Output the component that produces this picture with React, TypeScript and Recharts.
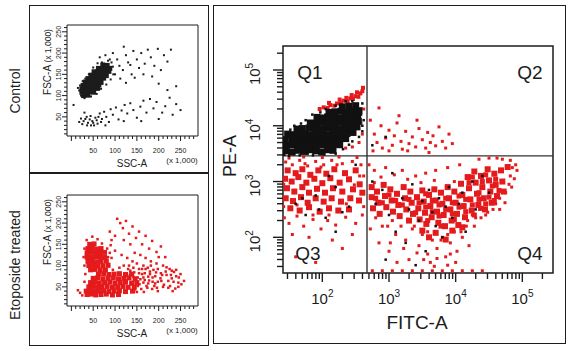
import React from 'react';
import { ScatterChart, Scatter, XAxis, YAxis, ReferenceLine, ReferenceArea } from 'recharts';

const RED = '#e41a1c';
const INK = '#1c1c1c';
const FONT = '"Liberation Sans", Arial, Helvetica, sans-serif';

// tick labels
const linMajor = [50, 100, 150, 200, 250];
const logDecades = [2, 3, 4, 5];
const quadrantLabels = ['Q1', 'Q2', 'Q3', 'Q4'];

// gate positions (log10 units)
const gateFitc = 2.67;
const gatePe = 3.46;

// ---- Control: SSC-A vs FSC-A (x 1,000) ----
const controlCore = [
  28,100, 38,101, 24,108, 33,107, 42,109, 51,108, 24,116, 33,117, 42,115, 51,116, 60,117,
  27,124, 36,125, 45,123, 54,124, 63,125, 32,132, 41,131, 50,133, 59,132, 68,131,
  38,140, 47,141, 56,139, 65,140, 74,141, 45,148, 54,147, 63,149, 72,148, 80,147,
  52,156, 61,157, 70,155, 79,156, 86,157, 62,164, 71,163, 80,165, 88,164, 72,172, 82,171,
];
const controlDots = [
  95,200, 105,185, 110,170, 118,160, 125,195, 130,178, 138,150, 142,205, 150,185, 155,165,
  160,200, 168,175, 175,208, 182,190, 190,170, 198,210, 205,160, 212,195, 220,180, 228,208,
  100,150, 112,140, 125,130, 135,172, 145,142, 165,150, 185,145, 200,128, 88,185, 78,195,
  70,178, 65,190, 120,215, 240,122, 18,112, 20,124, 22,100, 30,94, 45,98, 58,104, 68,116,
  80,126, 90,138, 96,150, 95,168, 92,178, 84,182, 60,176, 50,166, 40,150, 32,140, 26,134, 15,118,
];
const controlDebris = [
  18,38, 25,33, 32,45, 38,36, 44,52, 48,40, 55,48, 60,34, 65,58, 70,45, 75,62, 80,50, 86,38,
  90,68, 95,55, 102,72, 108,44, 115,65, 122,78, 128,58, 135,82, 142,66, 150,48, 158,74, 165,88,
  172,60, 180,92, 188,70, 195,85, 208,60, 215,75, 225,95, 232,55, 240,80, 5,78, 30,60, 52,30,
  78,30, 120,40, 160,40, 250,66, 200,45, 28,40, 35,50, 42,44, 50,36, 58,42, 62,50, 45,30, 36,30,
  22,46, 68,38, 220,113,
];

// ---- Etoposide treated: SSC-A vs FSC-A (x 1,000) ----
const etoCore = [
  42,150, 52,151, 38,140, 48,141, 58,139, 68,140, 36,130, 46,131, 56,129, 66,130, 76,131,
  36,120, 46,119, 56,121, 66,120, 76,119, 38,110, 48,111, 58,109, 68,110, 80,111,
  40,100, 50,101, 60,99, 72,100, 84,101, 44,90, 54,91, 66,89, 78,90,
  62,80, 74,81, 86,79, 98,80, 110,81, 124,79, 138,80,
  50,70, 60,71, 72,69, 84,70, 96,71, 108,69, 120,70, 132,71, 146,69,
  44,60, 54,61, 64,59, 76,60, 88,61, 100,59, 112,60, 124,61, 138,59, 150,60,
  40,50, 50,51, 60,49, 70,50, 82,51, 94,49, 106,50, 118,51, 130,49, 144,50,
  34,40, 44,41, 54,39, 64,40, 74,41, 86,39, 98,40, 110,41, 124,39, 140,40,
  36,32, 46,33, 56,31, 68,32, 80,33, 94,31, 108,32,
];
const etoDots = [
  105,210, 112,200, 118,188, 125,205, 132,175, 140,192, 148,165, 155,180, 162,150, 170,170,
  178,140, 185,158, 195,132, 205,145, 215,120, 100,170, 92,160, 88,180, 120,160, 135,150,
  145,130, 158,125, 170,118, 182,110, 195,105, 210,100, 225,92, 235,85, 230,70, 218,78,
  205,82, 198,62, 212,55, 222,48, 188,90, 175,95, 165,100, 150,105, 140,110, 128,118,
  115,125, 100,135, 90,148, 84,120, 86,98, 95,90, 110,95, 120,100, 130,92, 200,120,
  165,72, 180,80, 192,75, 172,52, 185,45, 198,40, 160,45, 150,38, 165,60, 178,65,
  155,82, 142,95, 25,30, 20,36, 15,42, 30,62, 32,80, 30,100, 28,120, 30,140, 35,160,
  48,168, 60,162, 70,152, 82,140, 88,130, 92,118, 60,82, 66,90, 245,60, 240,75, 232,40,
  126,65, 134,78, 245,50, 158,68, 168,82, 176,58, 186,62, 152,52, 162,92, 190,52,
  135,88, 142,74, 148,62, 155,92, 162,80, 168,66, 174,48, 180,86, 186,72, 192,58, 198,92,
  204,70, 210,50, 216,86, 222,64, 228,78, 234,62, 240,90, 246,72, 252,56, 138,56, 146,44,
  156,56, 166,38, 176,74, 196,48, 206,64, 218,96, 226,52, 238,46, 132,100, 144,84, 152,72,
  170,92, 182,100, 194,84, 208,78, 230,88, 250,80, 258,64,
];

// ---- FITC-A vs PE-A (log10 of intensity) ----
const ctrlAnnexCore = [
  1.45,3.55, 1.54,3.53, 1.63,3.56, 1.72,3.54, 1.81,3.57, 1.9,3.55, 1.99,3.53, 2.08,3.57, 2.16,3.56,
  1.46,3.65, 1.55,3.66, 1.64,3.64, 1.73,3.66, 1.82,3.65, 1.91,3.64, 2.0,3.66, 2.09,3.65, 2.18,3.67, 2.26,3.66,
  1.44,3.75, 1.54,3.76, 1.63,3.74, 1.72,3.76, 1.81,3.75, 1.9,3.74, 1.99,3.76, 2.08,3.75, 2.17,3.74, 2.26,3.76, 2.35,3.77,
  1.48,3.85, 1.56,3.84, 1.65,3.86, 1.74,3.85, 1.83,3.84, 1.92,3.86, 2.01,3.85, 2.1,3.84, 2.19,3.86, 2.28,3.85, 2.37,3.86, 2.46,3.88,
  1.62,3.94, 1.7,3.95, 1.8,3.96, 1.89,3.95, 1.98,3.94, 2.07,3.96, 2.16,3.95, 2.25,3.94, 2.34,3.96, 2.43,3.95, 2.52,3.98,
  1.82,4.05, 1.91,4.04, 2.0,4.06, 2.09,4.05, 2.18,4.04, 2.27,4.06, 2.36,4.05, 2.45,4.06, 2.54,4.08,
  1.92,4.15, 2.0,4.14, 2.08,4.16, 2.17,4.15, 2.26,4.14, 2.35,4.16, 2.44,4.15, 2.53,4.17,
  2.1,4.24, 2.19,4.25, 2.28,4.26, 2.37,4.24, 2.46,4.26, 2.55,4.27, 2.3,4.34, 2.4,4.35, 2.5,4.36,
];
const ctrlAnnexDots = [
  1.43,3.48, 1.5,3.46, 1.58,3.49, 1.66,3.47, 1.78,3.5, 1.86,3.47, 2.03,3.49, 2.2,3.5, 2.31,3.58,
  2.4,3.66, 2.45,3.72, 2.55,3.8, 2.6,3.9, 2.6,4.0, 2.62,4.1, 2.58,4.2, 1.52,3.93, 1.58,4.0,
  1.68,4.04, 1.75,4.1, 1.85,4.2, 1.97,4.24, 2.05,4.3, 2.2,4.36, 2.35,4.44, 2.45,4.44, 2.6,4.4,
  1.6,2.6, 1.75,2.4, 1.9,2.75, 2.05,2.35, 2.2,2.9, 2.4,2.55, 2.5,3.3, 2.1,3.1, 2.8,2.6, 2.9,2.85,
  3.0,2.4, 3.1,2.1, 3.2,2.7, 3.3,2.5, 3.35,2.95, 3.45,2.3, 3.5,2.65, 3.6,2.85, 3.65,2.45, 3.7,2.2,
  3.75,2.7, 3.85,2.55, 3.9,2.9, 3.95,2.35, 4.05,2.6, 4.1,2.8, 4.15,2.1, 4.25,3.0, 4.3,2.5, 4.4,3.1,
  4.5,2.8, 3.25,1.9, 3.55,1.75, 3.8,2.0, 2.95,1.6, 3.4,1.5, 2.75,3.0, 3.05,3.15, 2.2,2.1, 1.95,2.5,
  2.75,3.65, 2.95,3.8, 1.7,2.7, 2.3,2.45,
];
const etoQ1Streak = [
  1.96,4.3, 2.02,4.33, 2.08,4.32, 2.12,4.37, 2.18,4.36, 2.22,4.4, 2.28,4.41, 2.32,4.45, 2.38,4.44,
  2.42,4.49, 2.46,4.48, 2.5,4.53, 2.54,4.52, 2.57,4.58, 2.6,4.62, 2.61,4.68, 2.52,4.6, 2.44,4.55,
  2.36,4.5, 2.26,4.47, 2.1,4.41,
];
const etoQ3Core = [
  1.48,3.2, 1.6,3.15, 1.7,3.22, 1.82,3.12, 1.94,3.2, 2.06,3.14, 2.18,3.22, 2.34,3.15, 2.5,3.2,
  1.44,3.05, 1.54,3.0, 1.64,3.08, 1.76,2.98, 1.88,3.05, 2.0,2.97, 2.12,3.06, 2.26,2.98, 2.4,3.04, 2.56,2.95,
  1.47,2.88, 1.58,2.82, 1.7,2.9, 1.8,2.8, 1.92,2.87, 2.04,2.8, 2.16,2.88, 2.3,2.82, 2.46,2.86, 2.6,2.8,
  1.45,2.7, 1.56,2.65, 1.68,2.72, 1.78,2.62, 1.9,2.7, 2.02,2.64, 2.14,2.7, 2.28,2.64, 2.42,2.7, 2.55,2.66,
  1.52,2.52, 1.66,2.48, 1.8,2.54, 1.96,2.46, 2.1,2.52, 2.24,2.48, 2.4,2.5,
];
const etoQ4Core = [
  2.74,2.9, 2.74,2.72, 2.76,2.52, 2.82,2.82, 2.84,2.62, 2.86,2.42, 2.92,2.94, 2.94,2.74, 2.96,2.54,
  3.02,2.86, 3.04,2.66, 3.06,2.46, 3.12,2.78, 3.14,2.58, 3.16,2.38, 3.22,2.9, 3.24,2.7, 3.26,2.5,
  3.32,2.82, 3.34,2.62, 3.36,2.42, 3.3,2.3, 3.42,2.72, 3.44,2.52, 3.46,2.32, 3.5,2.84, 3.52,2.64,
  3.54,2.44, 3.56,2.24, 3.6,2.76, 3.62,2.56, 3.64,2.36, 3.68,2.86, 3.7,2.66, 3.72,2.46, 3.74,2.26,
  3.78,2.8, 3.8,2.6, 3.82,2.4, 3.84,2.2, 3.88,2.9, 3.9,2.7, 3.92,2.5, 3.94,2.3, 3.98,2.82,
  4.0,2.62, 4.02,2.42, 4.04,2.22, 4.08,2.96, 4.1,2.76, 4.12,2.56, 4.14,2.36, 4.18,3.08, 4.2,2.88,
  4.22,2.68, 4.24,2.48, 4.28,3.18, 4.3,2.98, 4.32,2.78, 4.34,2.58, 4.38,3.1, 4.4,2.9, 4.42,2.7,
  4.44,2.5, 4.48,3.22, 4.5,3.02, 4.52,2.82, 4.54,2.62, 4.58,3.14, 4.6,2.94, 4.62,2.74, 4.68,3.2,
  4.7,3.0, 4.72,2.82, 4.78,3.26, 3.5,2.12, 3.7,2.08, 3.95,2.12, 3.6,2.0, 3.85,1.96, 4.1,2.18,
];
const etoQ4Fill = [
  3.45,2.62, 3.55,2.54, 3.65,2.66, 3.75,2.58, 3.85,2.5, 3.95,2.62, 4.05,2.54, 4.15,2.68, 4.25,2.58,
  4.35,2.8, 4.45,2.6, 4.55,2.92, 4.65,2.84, 4.25,3.08, 4.45,3.12, 4.6,3.04, 3.55,2.78, 3.75,2.38,
  3.95,2.42, 4.15,2.46, 4.35,2.68, 3.65,2.46, 3.85,2.7, 4.05,2.74, 4.2,2.98, 4.4,3.0, 4.5,2.72,
  3.4,2.44, 3.3,2.68, 3.1,2.66, 2.9,2.62, 3.0,2.76, 3.2,2.58, 2.8,2.7, 3.58,2.3, 3.78,2.2,
  3.98,2.32, 4.28,2.4, 4.38,2.52, 4.58,2.66,
];
const etoDotsAnnex = [
  // Q1 / Q2
  2.5,4.2, 2.58,4.05, 2.6,3.85, 2.55,3.7, 2.45,3.62, 2.62,4.3, 2.35,3.6,
  2.72,4.1, 2.78,3.85, 2.82,3.7, 2.88,4.0, 2.9,3.6, 2.95,3.78, 3.0,3.92, 3.05,3.65, 3.08,3.82,
  3.12,4.05, 3.18,3.72, 3.2,3.58, 3.25,3.9, 3.3,3.68, 3.35,3.8, 3.4,3.62, 3.45,3.95, 3.5,3.75,
  3.55,3.6, 3.58,3.88, 3.62,3.7, 3.66,3.82, 3.7,3.64, 3.75,3.98, 3.8,3.72, 3.85,3.6, 3.9,3.85,
  2.85,4.32, 3.15,4.18, 2.76,3.55, 3.42,4.1, 3.0,3.55, 3.28,3.55, 3.6,3.52, 3.95,3.68,
  // Q3
  1.45,3.35, 1.55,3.3, 1.66,3.38, 1.78,3.28, 1.9,3.36, 2.02,3.3, 2.14,3.38, 2.3,3.32, 2.45,3.36, 2.58,3.3,
  1.43,2.35, 1.5,2.25, 1.62,2.38, 1.72,2.2, 1.86,2.32, 1.98,2.15, 2.08,2.3, 2.2,2.22, 2.35,2.36,
  2.5,2.25, 2.6,2.4, 1.55,2.05, 1.8,2.0, 2.15,1.95, 2.45,2.05, 1.6,1.65, 1.9,1.55, 2.3,1.8,
  1.5,3.42, 1.72,3.44, 2.0,3.43, 2.25,3.44, 2.52,3.43, 2.62,3.1, 2.62,2.55, 1.42,2.55, 1.42,2.95,
  1.62,2.58, 1.86,2.4, 2.1,2.4, 2.36,2.6, 2.56,3.1, 1.74,3.32, 1.98,3.26, 2.22,3.3, 2.48,2.94,
  // Q4
  2.7,3.3, 2.78,3.2, 2.8,2.35, 2.9,2.2, 2.72,2.15, 2.95,3.25, 3.05,2.3, 3.1,2.05, 3.2,3.2,
  3.25,1.95, 3.35,2.15, 3.4,3.1, 3.45,1.85, 3.5,2.05, 3.55,3.15, 3.58,1.7, 3.65,1.95, 3.7,3.2,
  3.72,1.8, 3.8,2.0, 3.85,1.65, 3.88,3.25, 3.92,1.9, 3.98,2.1, 4.02,1.75, 4.06,3.3, 4.1,2.0,
  4.16,2.2, 4.2,1.85, 4.25,2.4, 4.3,2.35, 4.36,2.5, 4.45,2.4, 4.5,3.42, 4.6,2.6, 4.66,2.7,
  4.75,2.8, 4.82,3.1, 4.85,3.25, 4.9,3.3, 4.92,3.2, 4.8,2.95, 4.35,3.4, 4.62,3.42, 3.0,1.75,
  3.3,1.6, 3.62,1.55, 2.85,1.9, 4.0,1.55,
  2.78,2.98, 2.88,3.08, 2.98,2.2, 3.08,3.12, 3.18,2.2, 3.28,3.04, 3.38,2.2, 3.48,2.98, 3.58,2.1,
  3.68,3.02, 3.78,1.95, 3.88,2.05, 3.98,3.0, 4.08,2.1, 4.18,2.3, 4.28,2.2, 4.38,2.35, 4.48,2.45,
  4.56,2.5, 4.66,2.5, 4.74,2.62, 4.84,2.9, 4.88,3.05, 4.82,3.38, 4.7,3.4, 3.02,1.9, 3.22,1.8,
  3.42,1.72, 3.52,1.6, 3.72,1.62, 3.92,1.7, 3.68,1.48, 3.88,1.5, 3.12,1.55,
  2.75,1.4, 2.9,1.4, 3.05,1.4, 3.2,1.4, 3.35,1.4, 3.5,1.4, 3.65,1.4, 3.8,1.4, 3.95,1.4,
  4.1,1.4, 4.25,1.4, 4.4,1.4,
];

const pts = (a: number[]) => {
  const out: { x: number; y: number }[] = [];
  for (let i = 0; i < a.length; i += 2) out.push({ x: a[i], y: a[i + 1] });
  return out;
};

const sq = (size: number, fill: string) => (p: any) => (
  <rect x={p.cx - size / 2} y={p.cy - size / 2} width={size} height={size} fill={fill} />
);

// axis ticks
const linTicks: number[] = [];
for (let v = 0; v <= 280; v += 10) linTicks.push(v);
const linYTicks = linTicks.filter((v) => v >= 10 && v <= 260);

const logTicks = (lo: number, hi: number) => {
  const t: number[] = [];
  for (let d = 1; d <= 5; d++) {
    for (let k = 1; k <= 9; k++) {
      const v = d + Math.log10(k);
      if (v >= lo && v <= hi) t.push(v);
    }
  }
  return t;
};
const isMajor = (v: number) => Math.abs(v - Math.round(v)) < 1e-6;

const LinTickX = (p: any) => {
  const v = p.payload.value;
  const major = v % 50 === 0;
  return (
    <g>
      <line x1={p.x} x2={p.x} y1={p.y} y2={p.y + (major ? 5 : 3)} stroke={INK} />
      {major && linMajor.includes(v) && (
        <text x={p.x} y={p.y + 17} textAnchor="middle" fontSize={7} fill={INK}>{v}</text>
      )}
    </g>
  );
};

const LinTickY = (p: any) => {
  const v = p.payload.value;
  const major = v % 50 === 0;
  return (
    <g>
      <line x1={p.x} x2={p.x - (major ? 5 : 3)} y1={p.y} y2={p.y} stroke={INK} />
      {major && linMajor.includes(v) && (
        <text transform={`translate(${p.x - 6},${p.y}) rotate(-90)`} textAnchor="middle" fontSize={7} fill={INK}>{v}</text>
      )}
    </g>
  );
};

const LogTickX = (p: any) => {
  const v = p.payload.value;
  const major = isMajor(v);
  return (
    <g>
      <line x1={p.x} x2={p.x} y1={p.y} y2={p.y + (major ? 9 : 6)} stroke={INK} strokeWidth={1.4} />
      {major && logDecades.includes(Math.round(v)) && (
        <text x={p.x} y={p.y + 31} textAnchor="middle" fontSize={15} fill={INK}>
          <tspan>10</tspan>
          <tspan dy={-7} fontSize={10}>{Math.round(v)}</tspan>
        </text>
      )}
    </g>
  );
};

const LogTickY = (p: any) => {
  const v = p.payload.value;
  const major = isMajor(v);
  return (
    <g>
      <line x1={p.x} x2={p.x - (major ? 10 : 6)} y1={p.y} y2={p.y} stroke={INK} strokeWidth={1.4} />
      {major && logDecades.includes(Math.round(v)) && (
        <text transform={`translate(${p.x - 23},${p.y + 4}) rotate(-90)`} textAnchor="middle" fontSize={15} fill={INK}>
          <tspan>10</tspan>
          <tspan dy={-7} fontSize={10}>{Math.round(v)}</tspan>
        </text>
      )}
    </g>
  );
};

const Txt = ({ x, y, size, rot, children }: any) => (
  <div
    style={{
      position: 'absolute',
      left: x,
      top: y,
      transform: `translate(-50%, -50%)${rot ? ' rotate(-90deg)' : ''}`,
      fontSize: size,
      whiteSpace: 'nowrap',
      lineHeight: 1,
    }}
  >
    {children}
  </div>
);

const LX = [-10, 290];
const LY = [5, 266];

const ScatterPanel = ({ top, series }: { top: number; series: { data: number[]; size: number; color: string }[] }) => (
  <div style={{ position: 'absolute', left: 30, top }}>
    <ScatterChart width={177} height={166} margin={{ top: 19, right: 9, bottom: 0, left: 0 }} style={{ fontFamily: FONT }}>
      <XAxis type="number" dataKey="x" domain={LX} allowDataOverflow ticks={linTicks} interval={0}
        tick={LinTickX} tickSize={0} tickMargin={0} tickLine={false} axisLine={false} height={36} />
      <YAxis type="number" dataKey="y" domain={LY} allowDataOverflow ticks={linYTicks} interval={0}
        tick={LinTickY} tickSize={0} tickMargin={0} tickLine={false} axisLine={false} width={37} />
      <ReferenceArea x1={LX[0]} x2={LX[1]} y1={LY[0]} y2={LY[1]} fill="none" stroke={INK} strokeWidth={1} />
      {series.map((s, i) => (
        <Scatter key={i} data={pts(s.data)} shape={sq(s.size, s.color)} isAnimationActive={false} />
      ))}
    </ScatterChart>
  </div>
);

const RX = [1.41, 5.46];
const RY = [1.36, 5.43];

export default function App() {
  const boxBorder = `1px solid ${INK}`;
  return (
    <div style={{ position: 'absolute', left: 0, top: 0, width: 573, height: 351, background: '#fff', fontFamily: FONT, color: INK }}>
      {/* frames */}
      <div style={{ position: 'absolute', left: 29, top: 5, width: 178, height: 339, border: boxBorder }} />
      <div style={{ position: 'absolute', left: 29, top: 172, width: 180, height: 2, background: INK }} />
      <div style={{ position: 'absolute', left: 213, top: 5, width: 351, height: 337, border: boxBorder }} />

      <Txt x={15} y={91} size={14} rot>Control</Txt>
      <Txt x={15} y={265} size={14} rot>Etoposide treated</Txt>

      <ScatterPanel
        top={6}
        series={[
          { data: controlDebris, size: 2, color: INK },
          { data: controlDots, size: 2, color: INK },
          { data: controlCore, size: 5, color: INK },
        ]}
      />
      <ScatterPanel
        top={176}
        series={[
          { data: etoDots, size: 2.5, color: RED },
          { data: etoCore, size: 5, color: RED },
        ]}
      />

      {[0, 170].map((dy) => (
        <React.Fragment key={dy}>
          <Txt x={46} y={62 + dy} rot>
            <span style={{ fontSize: 10 }}>FSC-A</span>
            <span style={{ fontSize: 8.5 }}> (x 1,000)</span>
          </Txt>
          <Txt x={132} y={164 + dy} size={10}>SSC-A</Txt>
          <Txt x={182} y={161 + dy} size={8}>(x 1,000)</Txt>
        </React.Fragment>
      ))}

      <div style={{ position: 'absolute', left: 214, top: 6 }}>
        <ScatterChart width={350} height={336} margin={{ top: 40, right: 11, bottom: 0, left: 0 }} style={{ fontFamily: FONT }}>
          <XAxis type="number" dataKey="x" domain={RX} allowDataOverflow ticks={logTicks(RX[0], RX[1])} interval={0}
            tick={LogTickX} tickSize={0} tickMargin={0} tickLine={false} axisLine={false} height={69} />
          <YAxis type="number" dataKey="y" domain={RY} allowDataOverflow ticks={logTicks(RY[0], RY[1])} interval={0}
            tick={LogTickY} tickSize={0} tickMargin={0} tickLine={false} axisLine={false} width={69} />
          <Scatter data={pts(etoQ3Core)} shape={sq(6, RED)} isAnimationActive={false} />
          <Scatter data={pts(etoQ4Core)} shape={sq(6, RED)} isAnimationActive={false} />
          <Scatter data={pts(etoQ4Fill)} shape={sq(5, RED)} isAnimationActive={false} />
          <Scatter data={pts(etoQ1Streak)} shape={sq(4, RED)} isAnimationActive={false} />
          <Scatter data={pts(etoDotsAnnex)} shape={sq(3, RED)} isAnimationActive={false} />
          <Scatter data={pts(ctrlAnnexCore)} shape={sq(7, '#111')} isAnimationActive={false} />
          <Scatter data={pts(ctrlAnnexDots)} shape={sq(2.5, '#111')} isAnimationActive={false} />
          <ReferenceLine x={gateFitc} stroke="#333" strokeWidth={1.4} />
          <ReferenceLine y={gatePe} stroke="#333" strokeWidth={1.4} />
          <ReferenceArea x1={RX[0]} x2={RX[1]} y1={RY[0]} y2={RY[1]} fill="none" stroke={INK} strokeWidth={1.5} />
        </ScatterChart>
      </div>

      <Txt x={230} y={156} size={18} rot>PE-A</Txt>
      <Txt x={417} y={322} size={19}>FITC-A</Txt>
      <Txt x={310} y={72} size={19}>{quadrantLabels[0]}</Txt>
      <Txt x={530} y={72} size={19}>{quadrantLabels[1]}</Txt>
      <Txt x={308} y={253} size={19}>{quadrantLabels[2]}</Txt>
      <Txt x={530} y={253} size={19}>{quadrantLabels[3]}</Txt>
    </div>
  );
}
